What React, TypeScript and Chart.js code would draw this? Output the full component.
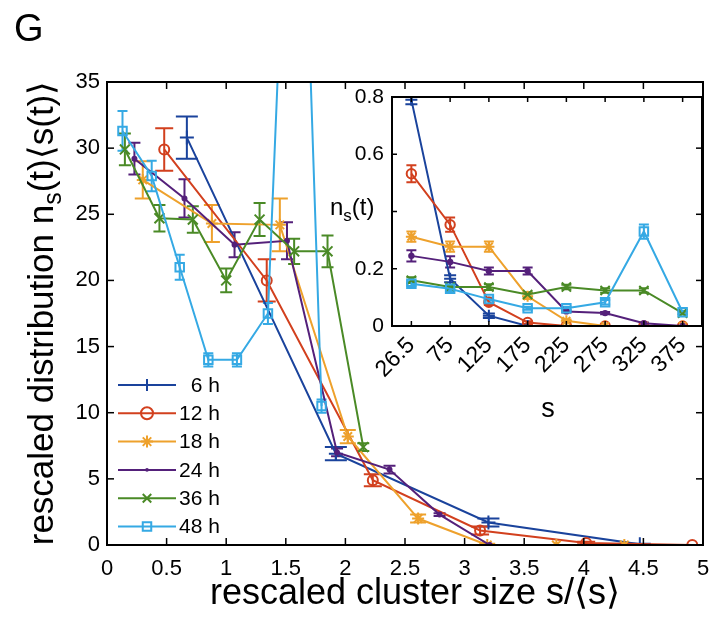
import React, { useEffect, useRef } from 'react';
import { Chart, registerables } from 'chart.js';

Chart.register(...registerables);

const FONT = '"Liberation Sans", Arial, Helvetica, sans-serif';

const seriesLabels = ['6 h', '12 h', '18 h', '24 h', '36 h', '48 h'];
const seriesColors = ['#1a439c', '#d2401e', '#eea12c', '#54207a', '#4a8a26', '#35a9e4'];
const markerStyles = ['cross', 'circle', 'star', 'dot', 'crossRot', 'rect'];

// ---- main plot: rescaled cluster size s/<s> vs rescaled distribution ----
const x6h = [0.67, 1.92, 3.2, 4.47];
const y6h = [30.8, 6.9, 1.7, 0.05];
const e6h = [1.6, 0.5, 0.3, 0.05];

const x12h = [0.48, 1.34, 2.23, 3.13, 4.02, 4.91];
const y12h = [29.9, 20.0, 4.9, 1.1, 0.15, 0.0];
const e12h = [1.6, 1.6, 0.45, 0.3, 0.1, 0];

const x18h = [0.30, 0.88, 1.45, 2.02, 2.61, 3.19, 3.77, 4.34];
const y18h = [27.6, 24.3, 24.2, 8.2, 2.0, 0.0, 0.0, 0.0];
const e18h = [1.4, 1.4, 2.0, 0.5, 0.3, 0.1, 0, 0];

const x24h = [0.23, 0.65, 1.07, 1.51, 1.93, 2.37, 2.79, 3.21];
const y24h = [29.2, 26.2, 22.7, 23.0, 7.0, 5.7, 2.3, 0.0];
const e24h = [1.2, 1.45, 0.95, 1.4, 0.3, 0.3, 0.1, 0];

const x36h = [0.15, 0.44, 0.72, 1.0, 1.28, 1.57, 1.85, 2.15];
const y36h = [29.9, 24.7, 24.6, 20.0, 24.6, 22.2, 22.2, 7.4];
const e36h = [1.2, 1.0, 1.0, 0.9, 1.25, 0.95, 1.2, 0.3];

const x48h = [0.13, 0.375, 0.61, 0.85, 1.09, 1.35, 1.585, 1.80];
const y48h = [31.3, 27.9, 21.0, 14.0, 14.0, 17.5, 68.7, 10.5];
const e48h = [1.5, 1.15, 0.95, 0.5, 0.5, 0.8, 2.0, 0.5];

const mainXs = [x6h, x12h, x18h, x24h, x36h, x48h];
const mainYs = [y6h, y12h, y18h, y24h, y36h, y48h];
const mainErrs = [e6h, e12h, e18h, e24h, e36h, e48h];
const mainCaps = [11, 9, 8, 6, 6, 5];
const mainRadii = [7, 5, 6, 2, 7, 6];

const mainXTickValues = [0, 0.5, 1, 1.5, 2, 2.5, 3, 3.5, 4, 4.5, 5];
const mainYTickValues = [0, 5, 10, 15, 20, 25, 30, 35];

// ---- inset: n_s(t) vs s ----
const insetCategories = ['26.5', '75', '125', '175', '225', '275', '325', '375'];
const in6h = [0.79, 0.165, 0.036, 0, null, null, null, null];
const in12h = [0.532, 0.354, 0.083, 0.012, 0, 0, 0, 0];
const in18h = [0.312, 0.277, 0.277, 0.104, 0.018, 0, 0, 0];
const in24h = [0.245, 0.224, 0.192, 0.192, 0.051, 0.045, 0.01, 0];
const in36h = [0.16, 0.136, 0.136, 0.11, 0.136, 0.124, 0.124, 0.045];
const in48h = [0.148, 0.13, 0.094, 0.062, 0.062, 0.083, 0.33, 0.048];

const ie6h = [0.015, 0.012, 0.008, 0, 0, 0, 0, 0];
const ie12h = [0.03, 0.025, 0.01, 0.005, 0, 0, 0, 0];
const ie18h = [0.018, 0.018, 0.018, 0.01, 0.005, 0, 0, 0];
const ie24h = [0.02, 0.02, 0.012, 0.012, 0.004, 0.004, 0.002, 0];
const ie36h = [0.01, 0.008, 0.01, 0.008, 0.008, 0.008, 0.008, 0.005];
const ie48h = [0.008, 0.008, 0.006, 0.005, 0.005, 0.008, 0.025, 0.005];

const insetYs = [in6h, in12h, in18h, in24h, in36h, in48h];
const insetErrs = [ie6h, ie12h, ie18h, ie24h, ie36h, ie48h];
const insetRadii = [6, 4.7, 5.5, 2.2, 6.5, 6];
const insetYTickValues = [0, 0.2, 0.4, 0.6, 0.8];

function cjsStyle(s: string) {
  return s === 'dot' ? 'circle' : s;
}

function drawMarker(ctx: CanvasRenderingContext2D, style: string, x: number, y: number, r: number, color: string) {
  ctx.save();
  ctx.strokeStyle = color;
  ctx.fillStyle = color;
  ctx.lineWidth = 2;
  ctx.beginPath();
  const d = r * Math.SQRT1_2;
  if (style === 'cross' || style === 'star') {
    ctx.moveTo(x - r, y); ctx.lineTo(x + r, y);
    ctx.moveTo(x, y - r); ctx.lineTo(x, y + r);
  }
  if (style === 'crossRot' || style === 'star') {
    ctx.moveTo(x - d, y - d); ctx.lineTo(x + d, y + d);
    ctx.moveTo(x - d, y + d); ctx.lineTo(x + d, y - d);
  }
  if (style === 'circle') ctx.arc(x, y, r, 0, Math.PI * 2);
  if (style === 'rect') ctx.rect(x - d, y - d, 2 * d, 2 * d);
  if (style === 'dot') {
    ctx.arc(x, y, r, 0, Math.PI * 2);
    ctx.fill();
  } else {
    ctx.stroke();
  }
  ctx.restore();
}

function drawErrorBars(chart: any, errs: number[][], caps: number[]) {
  const ctx = chart.ctx as CanvasRenderingContext2D;
  const xs = chart.scales.x;
  const ys = chart.scales.y;
  ctx.save();
  ctx.beginPath();
  ctx.rect(xs.left, ys.top, xs.right - xs.left, ys.bottom - ys.top);
  ctx.clip();
  chart.data.datasets.forEach((ds: any, i: number) => {
    const meta = chart.getDatasetMeta(i);
    meta.data.forEach((pt: any, j: number) => {
      const e = errs[i] ? errs[i][j] : 0;
      const raw = ds.data[j];
      const v = raw != null && typeof raw === 'object' ? raw.y : raw;
      if (v == null || !e) return;
      const px = pt.x;
      const y1 = ys.getPixelForValue(v + e);
      const y2 = ys.getPixelForValue(v - e);
      const c = caps[i];
      ctx.strokeStyle = seriesColors[i];
      ctx.lineWidth = 2;
      ctx.beginPath();
      ctx.moveTo(px, y1); ctx.lineTo(px, y2);
      ctx.moveTo(px - c, y1); ctx.lineTo(px + c, y1);
      ctx.moveTo(px - c, y2); ctx.lineTo(px + c, y2);
      ctx.stroke();
    });
  });
  ctx.restore();
}

// box frame with inward ticks
function drawFrame(ctx: CanvasRenderingContext2D, chart: any, xPix: number[], yPix: number[], len: number, sides: { top: boolean; right: boolean }) {
  const xs = chart.scales.x;
  const ys = chart.scales.y;
  const L = Math.round(xs.left), R = Math.round(xs.right);
  const T = Math.round(ys.top), B = Math.round(ys.bottom);
  ctx.save();
  ctx.fillStyle = '#000';
  ctx.fillRect(L - 1, T - 1, R - L + 2, 2);
  ctx.fillRect(L - 1, B - 1, R - L + 2, 2);
  ctx.fillRect(L - 1, T - 1, 2, B - T + 2);
  ctx.fillRect(R - 1, T - 1, 2, B - T + 2);
  xPix.forEach((px) => {
    ctx.fillRect(px - 0.75, B - len, 1.5, len);
    if (sides.top) ctx.fillRect(px - 0.75, T, 1.5, len);
  });
  yPix.forEach((py) => {
    ctx.fillRect(L, py - 0.75, len, 1.5);
    if (sides.right) ctx.fillRect(R - len, py - 0.75, len, 1.5);
  });
  ctx.restore();
}

function drawPieces(ctx: CanvasRenderingContext2D, x: number, y: number, pieces: { t: string; size: number; dy: number }[], align: 'left' | 'center') {
  let total = 0;
  pieces.forEach((p) => {
    ctx.font = `${p.size}px ${FONT}`;
    total += ctx.measureText(p.t).width;
  });
  let cx = align === 'center' ? x - total / 2 : x;
  ctx.textAlign = 'left';
  ctx.textBaseline = 'alphabetic';
  pieces.forEach((p) => {
    ctx.font = `${p.size}px ${FONT}`;
    ctx.fillText(p.t, cx, y + p.dy);
    cx += ctx.measureText(p.t).width;
  });
}

const mainDecor = {
  id: 'mainDecor',
  beforeDatasetsDraw(chart: any) {
    drawErrorBars(chart, mainErrs, mainCaps);
  },
  afterDraw(chart: any) {
    const ctx = chart.ctx as CanvasRenderingContext2D;
    const xs = chart.scales.x;
    const ys = chart.scales.y;
    drawFrame(
      ctx,
      chart,
      mainXTickValues.map((v) => xs.getPixelForValue(v)),
      mainYTickValues.map((v) => ys.getPixelForValue(v)),
      7,
      { top: true, right: true }
    );
    ctx.save();
    ctx.fillStyle = '#000';
    ctx.font = `36px ${FONT}`;
    ctx.textAlign = 'center';
    ctx.textBaseline = 'alphabetic';
    ctx.fillText('rescaled cluster size s/\u27E8s\u27E9', 415, 604);
    ctx.translate(53, 313);
    ctx.rotate(-Math.PI / 2);
    drawPieces(ctx, 0, 0, [
      { t: 'rescaled distribution n', size: 35, dy: 0 },
      { t: 's', size: 25, dy: 8 },
      { t: '(t)\u27E8s(t)\u27E9', size: 35, dy: 0 },
    ], 'center');
    ctx.restore();

    ctx.save();
    ctx.font = `21px ${FONT}`;
    const wRef = ctx.measureText('12 h').width;
    seriesLabels.forEach((lab, i) => {
      const y = 385 + i * 28.3;
      ctx.strokeStyle = seriesColors[i];
      ctx.lineWidth = 2;
      ctx.beginPath();
      ctx.moveTo(118, y);
      ctx.lineTo(176, y);
      ctx.stroke();
      drawMarker(ctx, markerStyles[i], 147, y, markerStyles[i] === 'dot' ? 1.8 : 6, seriesColors[i]);
      ctx.fillStyle = '#000';
      ctx.font = `21px ${FONT}`;
      ctx.textAlign = 'right';
      ctx.textBaseline = 'middle';
      ctx.fillText(lab, 179 + wRef, y + 1);
    });
    ctx.restore();
  },
};

const insetDecor = {
  id: 'insetDecor',
  beforeDatasetsDraw(chart: any) {
    drawErrorBars(chart, insetErrs, [6, 5, 5, 5, 5, 5]);
  },
  afterDraw(chart: any) {
    const ctx = chart.ctx as CanvasRenderingContext2D;
    const xs = chart.scales.x;
    const ys = chart.scales.y;
    drawFrame(
      ctx,
      chart,
      insetCategories.map((_, i) => xs.getPixelForValue(i)),
      insetYTickValues.map((v) => ys.getPixelForValue(v)),
      5,
      { top: true, right: false }
    );
    ctx.save();
    ctx.fillStyle = '#000';
    drawPieces(ctx, 30, 130, [
      { t: 'n', size: 24, dy: 0 },
      { t: 's', size: 17, dy: 6 },
      { t: '(t)', size: 24, dy: 0 },
    ], 'left');
    ctx.font = `27px ${FONT}`;
    ctx.textAlign = 'center';
    ctx.textBaseline = 'alphabetic';
    ctx.fillText('s', 248, 332);
    ctx.restore();
  },
};

function fixX(h: number) {
  return (s: any) => {
    s.height = h;
    s.paddingLeft = 0;
    s.paddingRight = 0;
  };
}
function fixY(w: number) {
  return (s: any) => {
    s.width = w;
    s.paddingTop = 0;
    s.paddingBottom = 0;
  };
}

const borderOn = { display: true, color: '#000', width: 2 };

export default function App() {
  const mainRef = useRef<HTMLCanvasElement>(null);
  const insetRef = useRef<HTMLCanvasElement>(null);

  useEffect(() => {
    Chart.defaults.font.family = FONT;
    Chart.defaults.color = '#000';

    const mainChart = new Chart(mainRef.current as HTMLCanvasElement, {
      type: 'line',
      data: {
        datasets: seriesLabels.map((lab, i) => ({
          label: lab,
          data: mainXs[i].map((x, j) => ({ x, y: mainYs[i][j] })),
          borderColor: seriesColors[i],
          backgroundColor: seriesColors[i],
          borderWidth: 2,
          pointStyle: cjsStyle(markerStyles[i]) as any,
          pointRadius: mainRadii[i],
          pointBorderWidth: 2,
          pointBorderColor: seriesColors[i],
          pointBackgroundColor: markerStyles[i] === 'dot' ? seriesColors[i] : 'rgba(0,0,0,0)',
          tension: 0,
          order: 5 - i,
        })),
      },
      options: {
        responsive: false,
        animation: false,
        devicePixelRatio: 1,
        layout: { padding: { left: 0, right: 9, top: 82, bottom: 0 } },
        plugins: { legend: { display: false }, tooltip: { enabled: false } },
        scales: {
          x: {
            type: 'linear',
            min: 0,
            max: 5,
            grid: { display: false, drawTicks: false },
            border: borderOn,
            ticks: {
              stepSize: 0.5,
              padding: 11,
              maxRotation: 0,
              font: { size: 22 },
              color: '#000',
              callback: (v: any) => String(Math.round(Number(v) * 10) / 10),
            },
            afterFit: fixX(76),
          },
          y: {
            type: 'linear',
            min: 0,
            max: 35,
            grid: { display: false, drawTicks: false },
            border: borderOn,
            ticks: { stepSize: 5, padding: 7, font: { size: 22 }, color: '#000' },
            afterFit: fixY(107),
          },
          xTop: {
            type: 'linear',
            position: 'top',
            min: 0,
            max: 5,
            grid: { display: false, drawTicks: false },
            border: borderOn,
            ticks: { display: false },
            afterFit: (s: any) => { s.height = 0; s.paddingLeft = 0; s.paddingRight = 0; },
          },
          yRight: {
            type: 'linear',
            position: 'right',
            min: 0,
            max: 35,
            grid: { display: false, drawTicks: false },
            border: borderOn,
            ticks: { display: false },
            afterFit: (s: any) => { s.width = 0; s.paddingTop = 0; s.paddingBottom = 0; },
          },
        },
      },
      plugins: [mainDecor],
    });

    const insetChart = new Chart(insetRef.current as HTMLCanvasElement, {
      type: 'line',
      data: {
        labels: insetCategories,
        datasets: seriesLabels.map((lab, i) => ({
          label: lab,
          data: insetYs[i],
          borderColor: seriesColors[i],
          backgroundColor: seriesColors[i],
          borderWidth: 2,
          pointStyle: cjsStyle(markerStyles[i]) as any,
          pointRadius: insetRadii[i],
          pointBorderWidth: 2,
          pointBorderColor: seriesColors[i],
          pointBackgroundColor: markerStyles[i] === 'dot' ? seriesColors[i] : 'rgba(0,0,0,0)',
          tension: 0,
          spanGaps: false,
          order: 5 - i,
        })),
      },
      options: {
        responsive: false,
        animation: false,
        devicePixelRatio: 1,
        layout: { padding: { left: 0, right: 10, top: 12, bottom: 0 } },
        plugins: { legend: { display: false }, tooltip: { enabled: false } },
        scales: {
          x: {
            type: 'category',
            offset: true,
            grid: { display: false, drawTicks: false },
            border: { display: false },
            ticks: { minRotation: 45, maxRotation: 45, autoSkip: false, padding: 6, font: { size: 23 }, color: '#000' },
            afterFit: fixX(104),
          },
          y: {
            type: 'linear',
            min: 0,
            max: 0.8,
            grid: { display: false, drawTicks: false },
            border: { display: false },
            ticks: {
              stepSize: 0.2,
              padding: 8,
              font: { size: 21 },
              color: '#000',
              callback: (v: any) => {
                const n = Number(v);
                if (Math.abs(n - 0.4) < 1e-6) return '';
                return n === 0 ? '0' : n.toFixed(1);
              },
            },
            afterFit: fixY(92),
          },
        },
      },
      plugins: [insetDecor],
    });

    return () => {
      mainChart.destroy();
      insetChart.destroy();
    };
  }, []);

  return (
    <div style={{ position: 'absolute', left: 0, top: 0, width: 712, height: 621, background: '#fff', overflow: 'hidden' }}>
      <canvas ref={mainRef} width={712} height={621} style={{ position: 'absolute', left: 0, top: 0 }} />
      <canvas ref={insetRef} width={412} height={345} style={{ position: 'absolute', left: 300, top: 85 }} />
      <div
        style={{
          position: 'absolute',
          left: 14,
          top: 6,
          fontFamily: FONT,
          fontSize: 38,
          lineHeight: '44px',
          color: '#000',
        }}
      >
        G
      </div>
    </div>
  );
}
